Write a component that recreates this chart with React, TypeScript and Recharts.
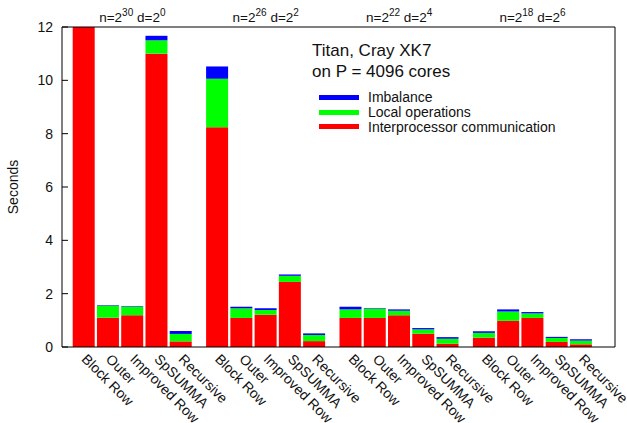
import { BarChart, Bar, XAxis, YAxis, Legend } from 'recharts';

const methods = ['Block Row', 'Outer', 'Improved Row', 'SpSUMMA', 'Recursive'];
const nExp = ['30', '26', '22', '18'];
const dExp = ['0', '2', '4', '6'];

// seconds per run, grouped by problem size (5 methods each)
const comm = [
  12.0, 1.10, 1.19, 11.0, 0.21,
  8.24, 1.09, 1.21, 2.44, 0.22,
  1.09, 1.09, 1.19, 0.50, 0.12,
  0.35, 0.98, 1.09, 0.19, 0.10,
];
const local = [
  0.00, 0.45, 0.33, 0.50, 0.28,
  1.82, 0.36, 0.18, 0.23, 0.23,
  0.32, 0.35, 0.17, 0.16, 0.19,
  0.18, 0.35, 0.17, 0.15, 0.14,
];
const imbalance = [
  0.00, 0.02, 0.02, 0.17, 0.11,
  0.46, 0.06, 0.06, 0.05, 0.06,
  0.10, 0.02, 0.05, 0.05, 0.06,
  0.06, 0.08, 0.05, 0.04, 0.05,
];
const yTicks = [0, 2, 4, 6, 8, 10, 12];
const legendOrder = ['Imbalance', 'Local operations', 'Interprocessor communication'];

const GROUP_STRIDE = 5.5;
const X_DOMAIN: [number, number] = [-0.9, 21.9];

const data = comm.map((c, k) => {
  const g = Math.floor(k / methods.length);
  const i = k % methods.length;
  return { pos: g * GROUP_STRIDE + i, name: methods[i], comm: c, local: local[k], imb: imbalance[k] };
});
const groupCenters = nExp.map((_, g) => g * GROUP_STRIDE + 2);

const FONT = '"Liberation Sans", Arial, Helvetica, sans-serif';
const INK = '#111';

const BottomTick = ({ x, y, index }: any) => {
  const ax = x - 3;
  const ay = y + 13;
  return (
    <text x={ax} y={ay} transform={`rotate(45, ${ax}, ${ay})`} fontSize={14} fill={INK} fontFamily={FONT}>
      {data[index]?.name}
    </text>
  );
};

const TopTick = ({ x, y, index }: any) => (
  <text x={x} y={y - 5} textAnchor="middle" fontSize={13.5} fill={INK} fontFamily={FONT}>
    <tspan>n=2</tspan>
    <tspan dy={-6} fontSize={10}>{nExp[index]}</tspan>
    <tspan dy={6}> d=2</tspan>
    <tspan dy={-6} fontSize={10}>{dExp[index]}</tspan>
  </text>
);

const renderLegend = ({ payload }: any) => {
  const items = [...(payload || [])].sort(
    (a: any, b: any) => legendOrder.indexOf(a.value) - legendOrder.indexOf(b.value)
  );
  return (
    <div style={{ fontFamily: FONT, color: INK }}>
      <div style={{ fontSize: 17, lineHeight: '21px' }}>Titan, Cray XK7</div>
      <div style={{ fontSize: 17, lineHeight: '21px' }}>on P = 4096 cores</div>
      <div style={{ marginTop: 8 }}>
        {items.map((it: any) => (
          <div key={it.value} style={{ display: 'flex', alignItems: 'center', height: 14.8, fontSize: 14 }}>
            <span style={{ display: 'inline-block', width: 40, height: 5, background: it.color, marginLeft: 7, marginRight: 9 }} />
            <span>{it.value}</span>
          </div>
        ))}
      </div>
    </div>
  );
};

export default function App() {
  return (
    <div style={{ position: 'absolute', left: 0, top: 0, width: 627, height: 423, background: '#fff', fontFamily: FONT }}>
      <BarChart width={627} height={423} data={data} margin={{ top: 0, right: 11, left: 0, bottom: 0 }}>
        <XAxis
          dataKey="pos" type="number" domain={X_DOMAIN} allowDataOverflow
          ticks={data.map(d => d.pos)} interval={0}
          tick={<BottomTick />} tickLine={false} tickSize={0} tickMargin={0}
          height={76} axisLine={{ stroke: '#000' }}
        />
        <XAxis
          xAxisId="top" dataKey="pos" orientation="top" type="number" domain={X_DOMAIN} allowDataOverflow
          ticks={groupCenters} interval={0}
          tick={<TopTick />} tickLine={false} tickSize={0} tickMargin={0}
          height={27} axisLine={{ stroke: '#000' }}
        />
        <YAxis
          domain={[0, 12]} ticks={yTicks} allowDataOverflow interval={0}
          width={62} tickSize={-6} tickMargin={15}
          tick={{ fill: INK, fontSize: 14 }}
          axisLine={{ stroke: '#000' }} tickLine={{ stroke: '#000' }}
          label={{ value: 'Seconds', angle: -90, position: 'insideLeft', offset: 13, style: { textAnchor: 'middle', fill: INK, fontSize: 14 } }}
        />
        <YAxis
          yAxisId="right" orientation="right" domain={[0, 12]} ticks={yTicks} allowDataOverflow interval={0}
          width={1} tickSize={-6} tick={false}
          axisLine={{ stroke: '#000' }} tickLine={{ stroke: '#000' }}
        />
        <Legend
          layout="vertical" align="center" verticalAlign="middle"
          content={renderLegend}
          wrapperStyle={{ position: 'absolute', left: 312, top: 40, width: 300, height: 'auto' }}
        />
        <Bar dataKey="comm" name="Interprocessor communication" stackId="s" fill="#ff0000" barSize={22} isAnimationActive={false} />
        <Bar dataKey="local" name="Local operations" stackId="s" fill="#00ff00" barSize={22} isAnimationActive={false} />
        <Bar dataKey="imb" name="Imbalance" stackId="s" fill="#0000ff" barSize={22} isAnimationActive={false} />
      </BarChart>
    </div>
  );
}
